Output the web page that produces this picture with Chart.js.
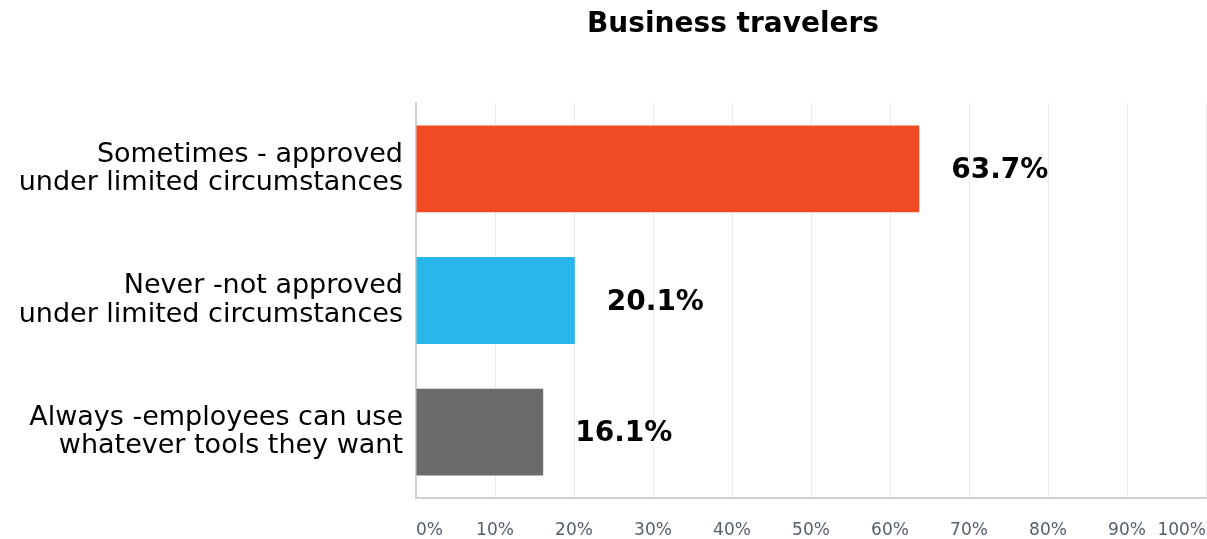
<!DOCTYPE html>
<html>
<head>
<meta charset="utf-8">
<script src="https://cdn.jsdelivr.net/npm/chart.js@4"></script>
<style>
  html, body { margin: 0; padding: 0; background: #fff; }
  #wrap { position: relative; width: 1207px; height: 539px; }
  #title {
    position: absolute; top: 6px; left: 533px; width: 400px;
    text-align: center; font: bold 28px "DejaVu Sans", sans-serif; color: #000;
  }
</style>
</head>
<body>
<div id="wrap">
  <canvas id="chart" width="1207" height="539"></canvas>
  <div id="title">Business travelers</div>
</div>
<script>
const categories = [
  ['Sometimes - approved', 'under limited circumstances'],
  ['Never -not approved', 'under limited circumstances'],
  ['Always -employees can use', 'whatever tools they want']
];
const shares = [63.7, 20.1, 16.1];
const barColors = ['#F04B23', '#29B6EA', '#6B6B6B'];
const xTicks = [0, 10, 20, 30, 40, 50, 60, 70, 80, 90, 100];

// value labels to the right of each bar
const valueLabels = {
  id: 'valueLabels',
  afterDatasetsDraw(chart) {
    const ctx = chart.ctx;
    const meta = chart.getDatasetMeta(0);
    ctx.save();
    ctx.font = 'bold 28px "DejaVu Sans", sans-serif';
    ctx.fillStyle = '#000';
    ctx.textBaseline = 'middle';
    ctx.textAlign = 'left';
    meta.data.forEach((bar, i) => {
      ctx.fillText(shares[i].toFixed(1) + '%', bar.x + 32, bar.y + 2);
    });
    ctx.restore();
  }
};

new Chart(document.getElementById('chart'), {
  type: 'bar',
  data: {
    labels: categories,
    datasets: [{
      data: shares,
      backgroundColor: barColors,
      barPercentage: 0.66,
      categoryPercentage: 1
    }]
  },
  options: {
    indexAxis: 'y',
    responsive: false,
    animation: false,
    layout: { padding: { top: 103, right: 1, left: 0, bottom: 0 } },
    plugins: { legend: { display: false }, tooltip: { enabled: false } },
    scales: {
      x: {
        min: 0, max: 100,
        afterBuildTicks(scale) { scale.ticks = xTicks.map(v => ({ value: v })); },
        afterFit(scale) {
          scale.height = 39;
          scale.paddingLeft = 0;
          scale.paddingRight = 0;
        },
        grid: { color: '#ebebeb', lineWidth: 1, drawTicks: false },
        border: { color: '#d0d0d0', width: 2 },
        ticks: {
          align: 'inner',
          padding: 22,
          color: '#56606b',
          font: { family: 'DejaVu Sans', size: 17 },
          callback: v => v + '%'
        }
      },
      y: {
        afterFit(scale) { scale.width = 416; },
        grid: { display: false, drawTicks: false },
        border: { color: '#d0d0d0', width: 2 },
        ticks: {
          padding: 13,
          color: '#000',
          font: { family: 'DejaVu Sans', size: 27, lineHeight: 1.04 }
        }
      }
    }
  },
  plugins: [valueLabels]
});
</script>
</body>
</html>
